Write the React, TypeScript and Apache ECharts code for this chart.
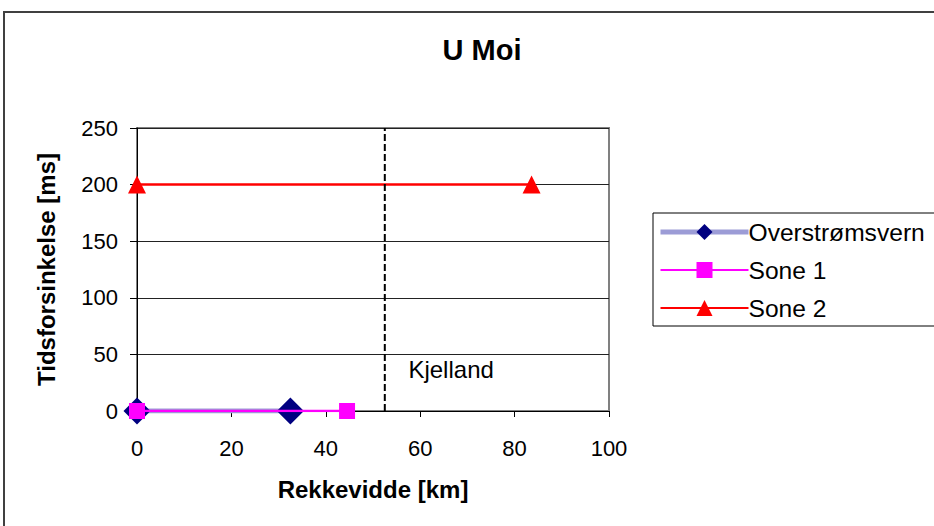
import React, { useEffect, useRef } from "react";
import * as echarts from "echarts";

const titleText = "U Moi";
const xAxisName = "Rekkevidde [km]";
const yAxisName = "Tidsforsinkelse [ms]";
const seriesNames = ["Overstrømsvern", "Sone 1", "Sone 2"];
const overstromX = [0, 32.5];
const overstromY = [0, 0];
const sone1X = [0, 44.5];
const sone1Y = [0, 0];
const sone2X = [0, 83.6];
const sone2Y = [200, 200];
const markerLineX = [52.5, 52.5];
const markerLineY = [0, 250];
const markerLabel = "Kjelland";
const markerLabelPos = [57.4, 37];

const zip = (xs: number[], ys: number[]) => xs.map((x, i) => [x, ys[i]]);

const FONT = "'Liberation Sans', Arial, sans-serif";
const HATCH = "#9c9cd6";

export default function App() {
  const ref = useRef<HTMLDivElement>(null);
  useEffect(() => {
    if (!ref.current) return;
    const chart = echarts.init(ref.current, null, { renderer: "svg" });
    chart.setOption({
      animation: false,
      backgroundColor: "#ffffff",
      textStyle: { fontFamily: FONT, color: "#000" },
      title: {
        text: titleText,
        left: 477,
        top: 30,
        textAlign: "center",
        textStyle: { fontFamily: FONT, fontSize: 29, fontWeight: "bold", color: "#000" },
      },
      graphic: [
        {
          type: "line",
          silent: true,
          shape: { x1: 4, y1: 12, x2: 4, y2: 530 },
          style: { stroke: "#404040", lineWidth: 2 },
        },
        {
          type: "line",
          silent: true,
          shape: { x1: 3, y1: 12, x2: 940, y2: 12 },
          style: { stroke: "#404040", lineWidth: 2 },
        },
      ],
      grid: {
        left: 137,
        top: 128,
        width: 472,
        height: 283,
        show: true,
        borderColor: "#808080",
        borderWidth: 2,
        backgroundColor: "transparent",
      },
      legend: {
        orient: "vertical",
        left: 653,
        top: 213,
        data: [
          { name: seriesNames[0], lineStyle: { color: HATCH, width: 5, type: "solid" } },
          { name: seriesNames[1] },
          { name: seriesNames[2] },
        ],
        itemWidth: 88,
        itemHeight: 20,
        itemGap: 12,
        padding: [6, 20, 5, 5],
        borderColor: "#000",
        borderWidth: 1,
        backgroundColor: "#fff",
        textStyle: { fontFamily: FONT, fontSize: 24.6, color: "#000", lineHeight: 26, padding: [0, 0, 0, -5] },
      },
      xAxis: {
        type: "value",
        min: 0,
        max: 100,
        interval: 20,
        name: xAxisName,
        nameLocation: "middle",
        nameGap: 66,
        nameTextStyle: { fontFamily: FONT, fontSize: 24, fontWeight: "bold", color: "#000" },
        axisLine: { show: true, onZero: false, lineStyle: { color: "#000", width: 1 } },
        axisTick: { show: true, inside: false, length: 6, lineStyle: { color: "#000" } },
        axisLabel: { fontFamily: FONT, fontSize: 22, color: "#000", margin: 26 },
        splitLine: { show: false },
      },
      yAxis: {
        type: "value",
        min: 0,
        max: 250,
        interval: 50,
        name: yAxisName,
        nameLocation: "middle",
        nameGap: 79,
        nameRotate: 90,
        nameTextStyle: { fontFamily: FONT, fontSize: 24, fontWeight: "bold", color: "#000" },
        axisLine: { show: true, onZero: false, lineStyle: { color: "#000", width: 1 } },
        axisTick: { show: true, inside: false, length: 7, lineStyle: { color: "#000" } },
        axisLabel: { fontFamily: FONT, fontSize: 22, color: "#000", margin: 19 },
        splitLine: { show: true, lineStyle: { color: "#222", width: 1 } },
      },
      series: [
        {
          name: seriesNames[0],
          type: "line",
          data: zip(overstromX, overstromY),
          symbol: "diamond",
          symbolSize: 27,
          itemStyle: { color: "#000080" },
          lineStyle: { color: HATCH, width: 5 },
          z: 2,
        },
        {
          name: seriesNames[1],
          type: "line",
          data: zip(sone1X, sone1Y),
          symbol: "rect",
          symbolSize: 16,
          itemStyle: { color: "#ff00ff" },
          lineStyle: { color: "#ff00ff", width: 2.5 },
          z: 3,
        },
        {
          name: seriesNames[2],
          type: "line",
          data: zip(sone2X, sone2Y),
          symbol: "triangle",
          symbolSize: 18,
          itemStyle: { color: "#ff0000" },
          lineStyle: { color: "#ff0000", width: 2.5 },
          z: 3,
        },
        {
          name: "marker",
          type: "line",
          data: zip(markerLineX, markerLineY),
          symbol: "none",
          lineStyle: { color: "#000", width: 2, type: [7, 3] },
          silent: true,
          z: 4,
        },
        {
          name: "markerLabel",
          type: "scatter",
          data: [markerLabelPos],
          symbolSize: 1,
          itemStyle: { color: "rgba(0,0,0,0)", opacity: 1 },
          label: {
            show: true,
            formatter: markerLabel,
            position: "right",
            distance: 0,
            fontFamily: FONT,
            fontSize: 24,
            color: "#000",
          },
          silent: true,
        },
      ],
    });
    return () => chart.dispose();
  }, []);
  return (
    <div
      ref={ref}
      style={{ position: "fixed", left: 0, top: 0, width: 934, height: 526, overflow: "hidden" }}
    />
  );
}
